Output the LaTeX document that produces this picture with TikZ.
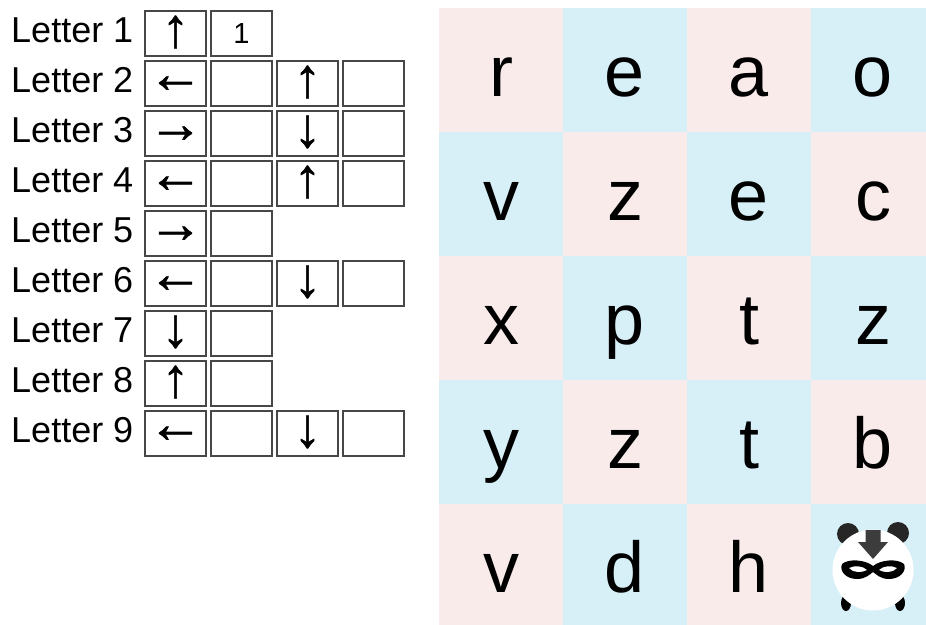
\documentclass[tikz,border=0pt]{standalone}
\usepackage{fontspec}
\setmainfont{Liberation Sans}
\newfontfamily\arrowfont{Liberation Sans}[FakeBold=1.2]
\definecolor{cpink}{HTML}{FAEBEB}
\definecolor{cblue}{HTML}{D7F0F8}
\definecolor{boxline}{HTML}{474747}
\definecolor{pandaarrow}{HTML}{3C3C3C}
\begin{document}
\begin{tikzpicture}[x=1pt,y=-1pt,
  lbl/.style={anchor=base east,inner sep=0,font=\fontsize{36}{40}\selectfont},
  cellbox/.style={draw=boxline,line width=2pt,minimum width=61pt,minimum height=45pt,inner sep=0,font=\fontsize{36}{40}\selectfont},
  numbox/.style={cellbox,font=\fontsize{29}{32}\selectfont},
  arrowglyph/.style={inner sep=0,font=\arrowfont\fontsize{55}{60}\selectfont},
  gridcell/.style={minimum size=124pt,inner sep=0,outer sep=0,draw=none},
  gridletter/.style={anchor=base,inner sep=0,font=\fontsize{72}{80}\selectfont}]
\useasboundingbox (0,0) rectangle (926,624);
% left table
\node[lbl] (L1) at (133.5,42) {Letter 1};
\node[cellbox] (b1-1) at (175.5,33.5) {};
\node[arrowglyph] (a1-1) at (175.5,32) {↑};
\node[numbox] (b1-2) at (241.5,33.5) {1};
\foreach \i/\ta/\oa/\tc/\n in {2/←/1/↑/4,3/→/1/↓/4,4/←/1/↑/4,5/→/1/{}/2,6/←/1/↓/4,7/↓/-1.5/{}/2,8/↑/-1.5/{}/2,9/←/1/↓/4}{
  \pgfmathsetmacro\yy{33.5+50*(\i-1)}
  \pgfmathsetmacro\yb{\yy+8.5}
  \pgfmathsetmacro\ya{\yy+\oa}
  \pgfmathsetmacro\yc{\yy-1.5}
  \node[lbl] (L\i) at (133.5,\yb) {Letter \i};
  \node[cellbox] (b\i-1) at (175.5,\yy) {};
  \node[arrowglyph] (a\i-1) at (175.5,\ya) {\ta};
  \node[cellbox] (b\i-2) at (241.5,\yy) {};
  \ifnum\n=4
    \node[cellbox] (b\i-3) at (307.5,\yy) {};
    \node[arrowglyph] (a\i-3) at (307.5,\yc) {\tc};
    \node[cellbox] (b\i-4) at (373.5,\yy) {};
  \fi
}
% grid
\begin{scope}
\clip (0,0) rectangle (926,624);
\foreach \r in {0,...,4}{
  \foreach \c in {0,...,3}{
    \pgfmathsetmacro\cx{501+124*\c}
    \pgfmathsetmacro\cy{70+124*\r}
    \pgfmathtruncatemacro\parity{mod(\r+\c,2)}
    \ifnum\parity=0
      \node[gridcell,fill=cpink] (g\r-\c) at (\cx,\cy) {};
    \else
      \node[gridcell,fill=cblue] (g\r-\c) at (\cx,\cy) {};
    \fi
  }
}
\end{scope}
\foreach \ch [count=\k from 0] in {r,e,a,o,v,z,e,c,x,p,t,z,y,z,t,b,v,d,h}{
  \pgfmathtruncatemacro\rr{div(\k,4)}
  \pgfmathtruncatemacro\cc{mod(\k,4)}
  \pgfmathsetmacro\cx{501+124*\cc}
  \pgfmathsetmacro\cy{96+124*\rr}
  \node[gridletter] (t\rr-\cc) at (\cx,\cy) {\ch};
}
% panda
\fill[black!85] (848,534) circle (11);
\fill[black!85] (898,533) circle (11);
\fill[black] (846,603) ellipse (5 and 8);
\fill[black] (900,603) ellipse (5 and 8);
\fill[white] (873,570) circle (40.5);
\fill[pandaarrow] (865.5,530) -- (880.5,530) -- (880.5,542) -- (888,542) -- (873,559) -- (858,542) -- (865.5,542) -- cycle;
\fill[black] (873,566) .. controls (866,560) and (849,558) .. (842,564)
  .. controls (839,571) and (846,579) .. (857,579)
  .. controls (866,579) and (870,574) .. (873,572)
  .. controls (876,574) and (880,579) .. (889,579)
  .. controls (900,579) and (907,571) .. (904,564)
  .. controls (897,558) and (880,560) .. (873,566) -- cycle;
\fill[white] (849,568) .. controls (855,565) and (863,566) .. (867,570) .. controls (862,573) and (853,573) .. (849,568) -- cycle;
\fill[white] (897,568) .. controls (891,565) and (883,566) .. (879,570) .. controls (884,573) and (893,573) .. (897,568) -- cycle;
\end{tikzpicture}
\end{document}
